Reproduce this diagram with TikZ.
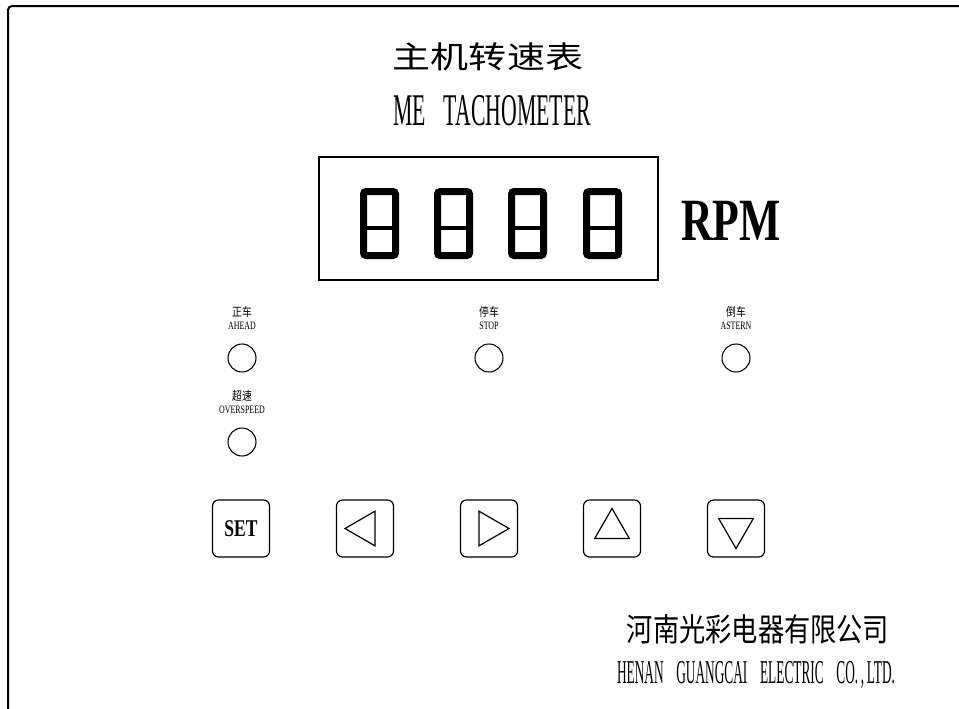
\documentclass[tikz,border=0pt]{standalone}
\usepackage{fontspec}
\setmainfont{Liberation Serif}
\newfontfamily\hanzi{Noto Sans CJK SC}
\newfontfamily\hanziwide[FakeStretch=1.24]{Noto Sans CJK SC}
\newfontfamily\hanzinarrow[FakeStretch=0.82]{Noto Sans CJK SC}
\newfontfamily\condfont[FakeStretch=0.48]{Liberation Serif}
\newfontfamily\condfontx[FakeStretch=0.40]{Liberation Serif}
\newfontfamily\labelfont[FakeStretch=0.7]{Liberation Serif}
\newfontfamily\keyfont[FakeStretch=0.73]{Liberation Serif}
\usetikzlibrary{shapes.geometric,positioning}

\tikzset{
  led/.style={draw,circle,line width=0.8pt,minimum size=21pt,inner sep=0},
  key/.style={draw,rectangle,rounded corners=4.5pt,line width=0.9pt,minimum size=42.75pt,inner sep=0},
  arrowtri/.style={draw,regular polygon,regular polygon sides=3,line width=0.9pt,minimum size=30pt,inner sep=0},
  digit/.style={draw,rectangle,rounded corners=2pt,line width=5.25pt,minimum width=24pt,minimum height=48pt,inner sep=0},
  cnlabel/.style={font=\hanzinarrow\fontsize{9}{9}\selectfont,inner sep=0},
  enlabel/.style={font=\labelfont\fontsize{8.5}{8.5}\selectfont,inner sep=0},
}

\begin{document}
\begin{tikzpicture}[x=0.75pt,y=-0.75pt]
\useasboundingbox (0,0) rectangle (959,708);

% panel edge
\draw[line width=1.5pt,rounded corners=3pt] (8,720) -- (8,6) -- (970,6);

% title
\node[font=\hanziwide\fontsize{23}{23}\selectfont,inner sep=0] (titleCN) at (488,57) {主机转速表};
\node[font=\condfont\fontsize{34}{34}\selectfont,inner sep=0,anchor=base] (titleEN) at (492,125) {ME\hspace{9.5pt} TACHOMETER};

% display window
\node[draw,line width=1.1pt,minimum width=254.25pt,minimum height=92.25pt,inner sep=0] (display) at (488.5,218.5) {};
\foreach \d/\cx in {1/379.5,2/453.5,3/527.5,4/602.5} {
	\node[digit] (dig\d) at (\cx,223.5) {};
	\draw[line width=3pt] ([yshift=-3.4pt]dig\d.west) -- ([yshift=-3.4pt]dig\d.east);
}
\node[font=\keyfont\bfseries\fontsize{45}{45}\selectfont,inner sep=0,anchor=base] (rpm) at (731,240) {RPM};

% lamps
\foreach \n/\cx/\cy/\cn/\en in {ahead/242/358/正车/AHEAD, stop/489/358/停车/STOP, astern/736/358/倒车/ASTERN, over/242/442/超速/OVERSPEED} {
	\node[led] (led-\n) at (\cx,\cy) {};
	\node[enlabel,above=10pt of led-\n] (en-\n) {\en};
	\node[cnlabel,above=3pt of en-\n] (cn-\n) {\cn};
}

% keys
\foreach \k/\cx in {set/241,left/365,right/489,up/612,down/736}
	\node[key] (key-\k) at (\cx,528.5) {};
\node[font=\keyfont\bfseries\fontsize{18}{18}\selectfont,inner sep=0] (setText) at (key-set) {SET};
\node[arrowtri,shape border rotate=90] (tri-left) at (key-left) {};
\node[arrowtri,shape border rotate=-90] (tri-right) at (key-right) {};
\node[arrowtri] (tri-up) at (key-up) {};
\node[arrowtri,shape border rotate=180] (tri-down) at (key-down) {};

% maker
\node[font=\hanzinarrow\fontsize{24}{24}\selectfont,inner sep=0] (companyCN) at (758,629) {河南光彩电器有限公司};
\node[font=\condfontx\fontsize{25}{25}\selectfont,inner sep=0,anchor=base] (companyEN) at (756,683) {HENAN\hspace{7pt} GUANGCAI\hspace{7pt} ELECTRIC\hspace{7pt} CO.\hspace{2pt},\hspace{2pt}LTD.};

\end{tikzpicture}
\end{document}
